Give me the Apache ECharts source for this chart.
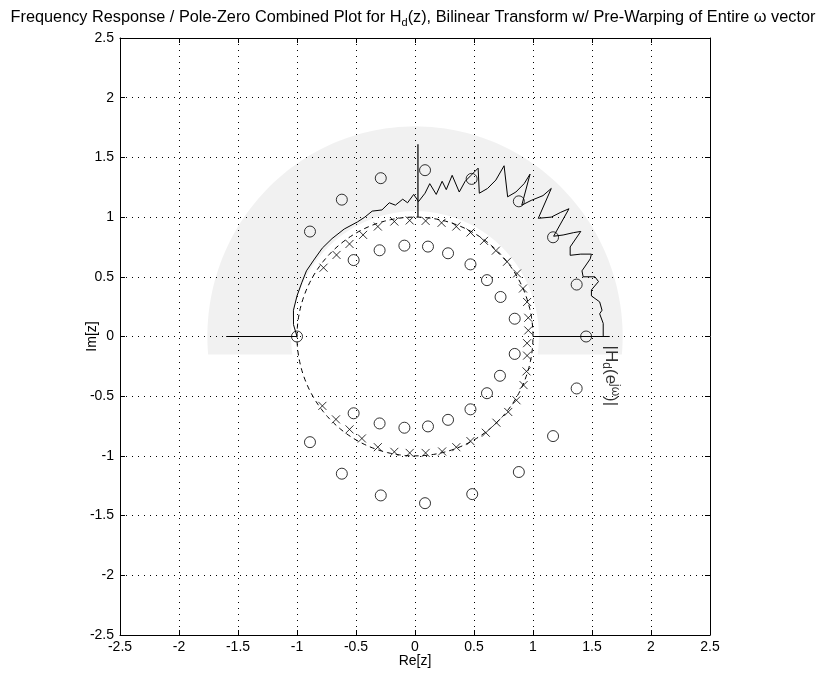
<!DOCTYPE html>
<html>
<head>
<meta charset="utf-8">
<script src="https://cdn.jsdelivr.net/npm/echarts/dist/echarts.min.js"></script>
<style>
  html, body { margin: 0; padding: 0; background: #fff; }
  #chart { width: 826px; height: 686px; }
</style>
</head>
<body>
<div id="chart"></div>
<script>
// Axis ticks (both axes share the same range)
const tickValues = [-2.5, -2, -1.5, -1, -0.5, 0, 0.5, 1, 1.5, 2, 2.5];

// Zeros of Hd(z): real and imaginary parts
const zerosRe = [
  -0.89, -0.62, -0.29, 0.085, 0.48, 0.88, 1.17, 1.37, 1.45,
  -0.89, -0.62, -0.29, 0.085, 0.485, 0.88, 1.17, 1.37,
  -0.52, -0.30, -0.09, 0.11, 0.28, 0.47, 0.61, 0.725, 0.845,
  -0.52, -0.30, -0.09, 0.11, 0.28, 0.47, 0.61, 0.72, 0.845,
  -1.0
];
const zerosIm = [
  0.879, 1.146, 1.326, 1.393, 1.320, 1.132, 0.831, 0.435, 0.0,
  -0.885, -1.149, -1.331, -1.396, -1.320, -1.135, -0.834, -0.435,
  0.640, 0.722, 0.761, 0.753, 0.697, 0.604, 0.472, 0.331, 0.149,
  -0.643, -0.728, -0.764, -0.753, -0.698, -0.610, -0.475, -0.329, -0.146,
  0.0
];

// Poles of Hd(z)
const polesRe = [
  0.96, 0.96, 0.95, 0.915, 0.865, 0.78, 0.685, 0.585, 0.47, 0.35,
  0.225, 0.09, -0.045, -0.175, -0.315, -0.44, -0.555, -0.665, -0.775,
  0.95, 0.95, 0.945, 0.92, 0.86, 0.79, 0.69, 0.60, 0.47, 0.35,
  0.23, 0.09, -0.045, -0.175, -0.315, -0.45, -0.555, -0.67, -0.785
];
const polesIm = [
  0.051, 0.157, 0.289, 0.402, 0.528, 0.626, 0.719, 0.801, 0.871, 0.921,
  0.952, 0.968, 0.972, 0.963, 0.921, 0.851, 0.775, 0.683, 0.576,
  -0.056, -0.160, -0.292, -0.407, -0.534, -0.632, -0.722, -0.806, -0.876, -0.927,
  -0.963, -0.975, -0.975, -0.966, -0.927, -0.854, -0.778, -0.694, -0.581
];

// Magnitude response |Hd(e^jw)| wrapped around the unit circle (Cartesian trace)
const respRe = [
  -1.00, -1.03, -1.03, -1.00, -0.96, -0.92, -0.858, -0.786, -0.703, -0.60,
  -0.487, -0.425, -0.363, -0.28, -0.218, -0.166, -0.104, -0.063, -0.011, 0.03,
  0.085, 0.125, 0.18, 0.23, 0.265, 0.315, 0.375, 0.425, 0.475, 0.535,
  0.545, 0.615, 0.685, 0.755, 0.785, 0.855, 0.925, 0.975, 0.905, 0.985,
  1.085, 1.155, 1.045, 1.155, 1.235, 1.305, 1.175, 1.255, 1.345, 1.405,
  1.315, 1.315, 1.405, 1.495, 1.485, 1.415, 1.425, 1.525, 1.555, 1.495,
  1.495, 1.565, 1.585, 1.565, 1.595, 1.595
];
const respIm = [
  0.00, 0.10, 0.22, 0.34, 0.45, 0.55, 0.64, 0.74, 0.82, 0.90,
  0.96, 1.00, 1.05, 1.06, 1.12, 1.10, 1.15, 1.12, 1.19, 1.13,
  1.20, 1.28, 1.19, 1.30, 1.23, 1.35, 1.21, 1.30, 1.35, 1.41,
  1.20, 1.24, 1.31, 1.43, 1.17, 1.21, 1.28, 1.36, 1.10, 1.14,
  1.18, 1.24, 0.99, 1.00, 1.04, 1.07, 0.84, 0.85, 0.87, 0.88,
  0.75, 0.68, 0.69, 0.69, 0.65, 0.55, 0.50, 0.50, 0.46, 0.39,
  0.34, 0.29, 0.22, 0.19, 0.11, 0.00
];

// Reference spokes of the magnitude plot (at 180°, 90°, 0°)
const spokesRe = [[-1.6, -1.0], [0.025, 0.025], [1.0, 1.65]];
const spokesIm = [[0.0, 0.0], [1.0, 1.61], [0.0, 0.0]];

// Shaded half ring behind the magnitude trace
const bandInner = 1.05;
const bandOuter = 1.76;
const bandFloor = -0.15;

const FONT = '"Liberation Sans", Arial, Helvetica, sans-serif';

const zip = (a, b) => a.map((v, i) => [v, b[i]]);

function ringPoints(api) {
  const pts = [];
  const n = 120;
  const a0o = Math.asin(bandFloor / bandOuter);
  const a1o = Math.PI - a0o;
  for (let i = 0; i <= n; i++) {
    const a = a0o + (a1o - a0o) * i / n;
    pts.push(api.coord([bandOuter * Math.cos(a), bandOuter * Math.sin(a)]));
  }
  const a0i = Math.asin(bandFloor / bandInner);
  const a1i = Math.PI - a0i;
  for (let i = n; i >= 0; i--) {
    const a = a0i + (a1i - a0i) * i / n;
    pts.push(api.coord([bandInner * Math.cos(a), bandInner * Math.sin(a)]));
  }
  return pts;
}

function unitCirclePoints(api) {
  const pts = [];
  const n = 240;
  for (let i = 0; i <= n; i++) {
    const a = 2 * Math.PI * i / n;
    pts.push(api.coord([Math.cos(a), Math.sin(a)]));
  }
  return pts;
}

const axisCommon = {
  type: 'value',
  min: tickValues[0],
  max: tickValues[tickValues.length - 1],
  interval: 0.5,
  axisLine: { show: true, onZero: false, lineStyle: { color: '#000', width: 1 } },
  axisTick: { show: true, inside: true, length: 5, lineStyle: { color: '#000' } },
  axisLabel: { color: '#000', fontFamily: FONT, fontSize: 14 },
};

const spokeSeries = spokesRe.map((xs, k) => ({
  type: 'line',
  data: zip(xs, spokesIm[k]),
  showSymbol: false,
  lineStyle: { color: '#000', width: 1.2 },
  silent: true,
  z: 4,
}));

const option = {
  animation: false,
  backgroundColor: '#fff',
  title: {
    text: 'Frequency Response / Pole-Zero Combined Plot for H{sub|d}(z), Bilinear Transform w/ Pre-Warping of Entire ω vector',
    left: 'center',
    top: 3,
    textStyle: {
      color: '#000', fontFamily: FONT, fontSize: 16.3, fontWeight: 'normal',
      rich: { sub: { fontFamily: FONT, fontSize: 11, verticalAlign: 'bottom', padding: [9, 0, 0, 0] } }
    }
  },
  grid: { left: 120, top: 38, width: 590, height: 597, containLabel: false },
  xAxis: [
    Object.assign({}, axisCommon, {
      position: 'bottom',
      name: 'Re[z]', nameLocation: 'middle', nameGap: 19.5, nameMoveOverlap: false,
      nameTextStyle: { color: '#000', fontFamily: FONT, fontSize: 14, verticalAlign: 'top' },
      axisLabel: { color: '#000', fontFamily: FONT, fontSize: 14, margin: 5 },
      splitLine: { show: true, lineStyle: { color: '#000', width: 1, type: [1, 5] } },
    }),
    Object.assign({}, axisCommon, {
      position: 'top',
      axisLabel: { show: false },
      splitLine: { show: false },
    })
  ],
  yAxis: [
    Object.assign({}, axisCommon, {
      position: 'left',
      name: 'Im[z]', nameLocation: 'middle', nameGap: 21, nameRotate: 90, nameMoveOverlap: false,
      nameTextStyle: { color: '#000', fontFamily: FONT, fontSize: 14 },
      axisLabel: { color: '#000', fontFamily: FONT, fontSize: 14, margin: 6 },
      splitLine: { show: true, lineStyle: { color: '#000', width: 1, type: [1, 5] } },
    }),
    Object.assign({}, axisCommon, {
      position: 'right',
      axisLabel: { show: false },
      splitLine: { show: false },
    })
  ],
  series: [
    {
      type: 'custom',
      silent: true,
      z: 1,
      data: [[0, 0]],
      renderItem: (params, api) => ({
        type: 'polygon',
        shape: { points: ringPoints(api) },
        style: { fill: 'rgba(0,0,0,0.055)', stroke: null }
      })
    },
    {
      type: 'custom',
      silent: true,
      z: 3,
      data: [[0, 0]],
      renderItem: (params, api) => ({
        type: 'polyline',
        shape: { points: unitCirclePoints(api) },
        style: { fill: null, stroke: '#000', lineWidth: 1, lineDash: [5, 4] }
      })
    },
    ...spokeSeries,
    {
      type: 'line',
      data: zip(respRe, respIm),
      showSymbol: false,
      lineStyle: { color: '#000', width: 1 },
      silent: true,
      z: 5,
    },
    {
      type: 'scatter',
      data: zip(zerosRe, zerosIm),
      symbol: 'circle',
      symbolSize: 11,
      itemStyle: { color: 'rgba(0,0,0,0)', borderColor: '#000', borderWidth: 1 },
      silent: true,
      z: 6,
    },
    {
      type: 'scatter',
      data: zip(polesRe, polesIm),
      symbol: 'path://M0,0L10,10M10,0L0,10',
      symbolSize: 8,
      itemStyle: { color: 'rgba(0,0,0,0)', borderColor: '#000', borderWidth: 1 },
      silent: true,
      z: 6,
    },
    {
      type: 'scatter',
      data: [[1.66, -0.33]],
      symbolSize: 0,
      silent: true,
      z: 7,
      label: {
        show: true,
        position: 'inside',
        rotate: -90,
        formatter: '|H{sub|d}(e{sup|jω})|',
        color: '#000',
        fontFamily: FONT,
        fontSize: 17,
        rich: {
          sub: { fontFamily: FONT, fontSize: 12, verticalAlign: 'bottom', padding: [9, 0, 0, 0] },
          sup: { fontFamily: FONT, fontSize: 12, verticalAlign: 'top', padding: [0, 0, 7, 0] }
        }
      }
    }
  ]
};

const chart = echarts.init(document.getElementById('chart'), null, { renderer: 'canvas' });
chart.setOption(option);
</script>
</body>
</html>
